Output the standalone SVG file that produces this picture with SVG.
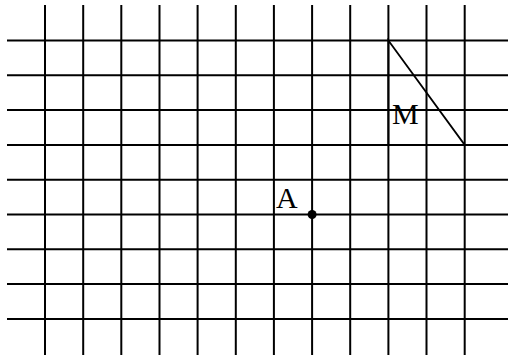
<svg xmlns="http://www.w3.org/2000/svg" width="510" height="360" viewBox="0 0 510 360">
<style>
.g line{stroke:#000;stroke-width:2}
.lbl{font-family:"Liberation Serif","Times New Roman",serif;font-size:30px;fill:#000}
</style>
<rect width="510" height="360" fill="#fff"/>
<g id="grid" class="g">
<line x1="7" y1="40.5" x2="508" y2="40.5"/>
<line x1="7" y1="75.3" x2="508" y2="75.3"/>
<line x1="7" y1="110.1" x2="508" y2="110.1"/>
<line x1="7" y1="144.9" x2="508" y2="144.9"/>
<line x1="7" y1="179.7" x2="508" y2="179.7"/>
<line x1="7" y1="214.5" x2="508" y2="214.5"/>
<line x1="7" y1="249.3" x2="508" y2="249.3"/>
<line x1="7" y1="284.1" x2="508" y2="284.1"/>
<line x1="7" y1="318.9" x2="508" y2="318.9"/>
<line x1="45" y1="5" x2="45" y2="355"/>
<line x1="83.2" y1="5" x2="83.2" y2="355"/>
<line x1="121.3" y1="5" x2="121.3" y2="355"/>
<line x1="159.5" y1="5" x2="159.5" y2="355"/>
<line x1="197.6" y1="5" x2="197.6" y2="355"/>
<line x1="235.8" y1="5" x2="235.8" y2="355"/>
<line x1="273.9" y1="5" x2="273.9" y2="355"/>
<line x1="312.1" y1="5" x2="312.1" y2="355"/>
<line x1="350.2" y1="5" x2="350.2" y2="355"/>
<line x1="388.4" y1="5" x2="388.4" y2="355"/>
<line x1="426.5" y1="5" x2="426.5" y2="355"/>
<line x1="464.7" y1="5" x2="464.7" y2="355"/>
</g>
<g id="triangle">
<polygon points="388.4,40.5 464.7,144.9 388.4,144.9" fill="none" stroke="#000" stroke-width="1.8"/>
<text class="lbl" x="392" y="124">M</text>
</g>
<g id="pointA">
<circle cx="312.1" cy="214.5" r="4.5" fill="#000"/>
<text class="lbl" x="276" y="208">A</text>
</g>
</svg>
